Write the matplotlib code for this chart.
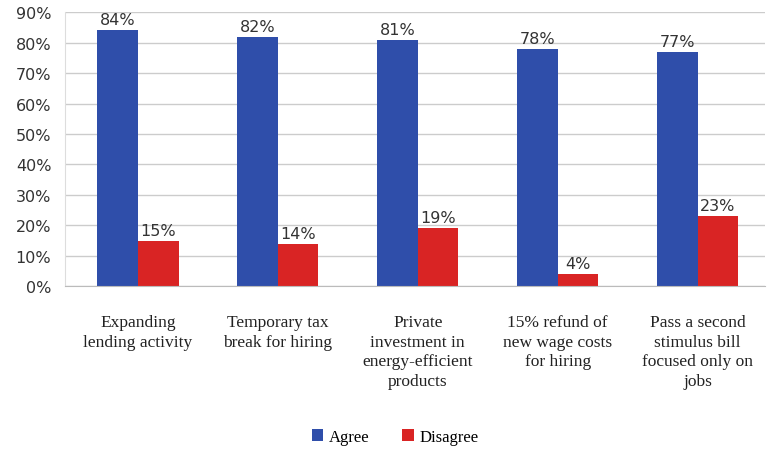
import matplotlib.pyplot as plt
import numpy as np

categories = ["Expanding\nlending activity", "Temporary tax\nbreak for hiring",
              "Private\ninvestment in\nenergy-efficient\nproducts",
              "15% refund of\nnew wage costs\nfor hiring",
              "Pass a second\nstimulus bill\nfocused only on\njobs"]
agree = [84, 82, 81, 78, 77]
disagree = [15, 14, 19, 4, 23]

blue = "#2F4EAA"
red = "#D92424"

fig = plt.figure(figsize=(7.67, 4.56), dpi=100)
ax = fig.add_axes([0.085, 0.370, 0.912, 0.601])

x = np.arange(len(categories))
w = 0.29
b1 = ax.bar(x - w / 2, agree, w, color=blue, label="Agree")
b2 = ax.bar(x + w / 2, disagree, w, color=red, label="Disagree")

for bars, vals in ((b1, agree), (b2, disagree)):
    for b, v in zip(bars, vals):
        ax.text(b.get_x() + b.get_width() / 2, v + 1, f"{v}%", ha="center", va="bottom",
                fontsize=11.5, color="#333333", family="DejaVu Sans")

ax.set_ylim(0, 90)
ax.set_xlim(-0.52, len(categories) - 0.52)
ax.set_yticks(range(0, 91, 10))
ax.set_yticklabels([f"{t}%" for t in range(0, 91, 10)], fontsize=11.5, color="#333333")
ax.yaxis.grid(True, color="#cccccc", lw=1)
ax.set_axisbelow(True)
ax.tick_params(axis="y", length=0, pad=10)
ax.set_xticks(x)
ax.set_xticklabels(categories, fontsize=12.5, family="Liberation Serif", color="#222222",
                   va="top", linespacing=1.3)
ax.tick_params(axis="x", length=0, pad=20)
for s in ("top", "right"):
    ax.spines[s].set_visible(False)
ax.spines["left"].set_color("#dddddd")
ax.spines["bottom"].set_color("#bbbbbb")

fig.legend(handles=[b1, b2], loc="center", bbox_to_anchor=(0.515, 0.04), ncol=2,
           frameon=False, prop={"family": "Liberation Serif", "size": 12},
           handlelength=0.7, handleheight=0.7, handletextpad=0.3, columnspacing=2)

fig.savefig("out.png", dpi=100)
